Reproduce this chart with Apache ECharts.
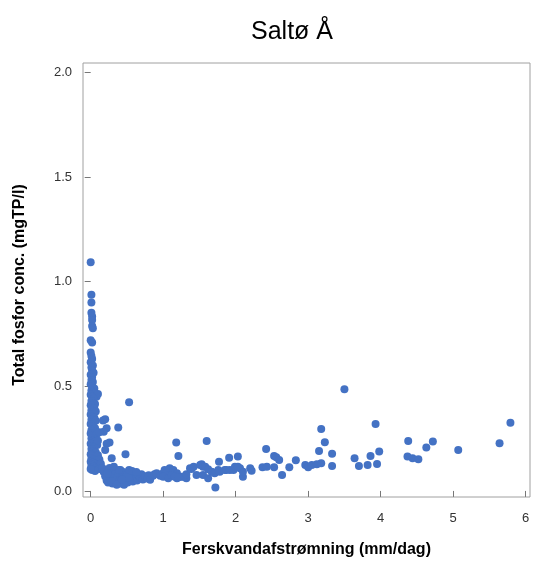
<!DOCTYPE html>
<html>
<head>
<meta charset="utf-8">
<script src="https://cdn.jsdelivr.net/npm/echarts@6/dist/echarts.min.js"></script>
<style>
html,body{margin:0;padding:0;background:#fff;}
#chart{width:533px;height:570px;}
</style>
</head>
<body>
<div id="chart"></div>
<script>
var titleText = "Saltø Å";
var xName = "Ferskvandafstrømning (mm/dag)";
var yName = "Total fosfor conc. (mgTP/l)";
var xTicks = [0, 1, 2, 3, 4, 5, 6];
var yTicks = [0, 0.5, 1.0, 1.5, 2.0];

// x = freshwater runoff (mm/day), y = total phosphorus (mg TP/l)
var xVals = [
  0.00,0.01,0.01,0.01,0.02,0.02,0.02,0.03,0.00,0.02,0.00,0.01,0.02,0.00,0.03,0.01,0.02,0.04,0.00,0.02,
  0.01,0.03,0.00,0.02,0.05,0.01,0.03,0.06,0.08,0.10,0.00,0.02,0.04,0.01,0.03,0.06,0.00,0.02,0.05,0.01,
  0.03,0.07,0.00,0.02,0.05,0.01,0.04,0.07,0.00,0.03,0.06,0.01,0.04,0.00,0.02,0.05,0.08,0.01,0.03,0.06,
  0.00,0.02,0.05,0.09,0.01,0.03,0.07,0.00,0.02,0.05,0.10,0.01,0.04,0.08,0.12,0.00,0.03,0.06,0.10,0.14,
  0.01,0.04,0.08,0.12,0.02,0.06,0.16,0.00,
  0.53,0.20,0.17,0.38,0.22,0.18,0.26,0.22,0.20,0.48,0.29,0.12,0.10,
  0.18,0.20,0.22,0.24,0.25,0.27,0.28,0.30,0.31,0.33,0.34,0.35,0.37,0.38,0.40,0.41,0.42,0.44,0.45,0.47,
  0.48,0.50,0.51,0.53,0.54,0.56,0.58,0.60,0.62,0.64,0.66,0.68,0.70,0.72,0.75,0.78,0.80,0.82,0.86,0.88,
  0.91,0.96,0.26,0.32,0.23,0.29,0.36,0.39,0.46,0.52,0.57,0.63,0.43,
  1.00,1.02,1.05,1.09,1.14,1.19,1.25,1.00,1.07,1.12,1.19,1.28,1.32,1.16,1.21,1.18,1.21,
  1.32,1.37,1.42,1.39,1.46,1.51,1.53,1.55,1.55,1.58,1.62,1.62,1.67,1.71,1.76,1.78,1.85,1.87,1.92,1.97,
  1.99,2.06,2.10,2.10,2.20,2.22,1.60,1.77,1.91,2.03,2.03,1.72,
  2.37,2.43,2.42,2.53,2.53,2.56,2.60,2.64,2.74,2.83,2.96,3.00,3.05,3.12,3.18,3.15,3.18,3.23,3.33,3.33,
  3.50,3.64,3.70,3.82,3.86,3.93,3.95,3.98,4.37,4.38,4.44,4.52,4.63,4.72,5.07,5.64,5.79
];
var yVals = [
  1.093,0.937,0.900,0.852,0.833,0.817,0.788,0.777,0.720,0.709,0.661,0.645,0.630,0.615,0.600,0.590,0.575,0.565,0.555,0.545,
  0.530,0.520,0.510,0.500,0.490,0.480,0.470,0.467,0.450,0.463,0.460,0.450,0.440,0.430,0.420,0.415,0.410,0.400,0.395,0.385,
  0.375,0.380,0.365,0.355,0.350,0.340,0.330,0.335,0.320,0.310,0.300,0.290,0.285,0.275,0.265,0.260,0.270,0.250,0.240,0.235,
  0.225,0.215,0.210,0.220,0.200,0.190,0.185,0.175,0.170,0.165,0.170,0.155,0.150,0.145,0.150,0.140,0.135,0.130,0.125,0.130,
  0.120,0.115,0.110,0.105,0.100,0.095,0.110,0.105,
  0.424,0.343,0.336,0.303,0.300,0.283,0.231,0.225,0.196,0.175,0.156,0.280,0.240,
  0.090,0.070,0.050,0.040,0.080,0.060,0.100,0.035,0.075,0.055,0.095,0.040,0.065,0.085,0.050,0.100,0.035,0.070,0.090,0.045,
  0.060,0.080,0.040,0.100,0.055,0.070,0.045,0.085,0.060,0.050,0.075,0.065,0.080,0.055,0.070,0.060,0.075,0.053,0.072,0.080,
  0.085,0.072,0.110,0.115,0.085,0.045,0.030,0.100,0.030,0.065,0.095,0.090,0.055,
  0.085,0.100,0.092,0.108,0.100,0.085,0.068,0.068,0.061,0.076,0.061,0.068,0.061,0.068,0.065,0.231,0.167,
  0.080,0.108,0.116,0.105,0.076,0.124,0.128,0.116,0.076,0.116,0.104,0.061,0.092,0.085,0.100,0.092,0.100,0.100,0.100,0.100,
  0.116,0.108,0.068,0.092,0.108,0.097,0.239,0.140,0.159,0.164,0.116,0.016,
  0.113,0.116,0.200,0.113,0.167,0.161,0.148,0.076,0.113,0.147,0.124,0.113,0.124,0.128,0.132,0.191,0.296,0.233,0.178,0.119,
  0.486,0.156,0.119,0.124,0.167,0.320,0.129,0.188,0.164,0.239,0.156,0.151,0.207,0.236,0.196,0.228,0.326
];

var points = xVals.map(function (x, i) { return [x, yVals[i]]; });

var chart = echarts.init(document.getElementById('chart'), null, {renderer: 'canvas'});
var axisFont = {color: '#333', fontSize: 13, fontFamily: 'Liberation Sans, Arial, sans-serif'};
chart.setOption({
  backgroundColor: '#fff',
  animation: false,
  title: {
    text: titleText,
    left: 287, top: 15, textAlign: 'center',
    textStyle: {fontSize: 25, fontWeight: 'normal', color: '#000', fontFamily: 'Liberation Sans, Arial, sans-serif'}
  },
  grid: {left: 83, right: 3, top: 63, bottom: 73, show: true, borderColor: '#a0a0a0', borderWidth: 1},
  xAxis: {
    type: 'value', min: -0.106, max: 6.06,
    name: xName, nameLocation: 'middle', nameGap: 44,
    nameTextStyle: {fontSize: 16, fontWeight: 'bold', color: '#000', fontFamily: 'Liberation Sans, Arial, sans-serif'},
    axisLine: {show: false},
    axisTick: {show: true, length: 6, customValues: xTicks, lineStyle: {color: '#777', width: 1}},
    axisLabel: Object.assign({customValues: xTicks, margin: 14, formatter: function (v) { return String(Math.round(v)); }}, axisFont),
    splitLine: {show: false},
    offset: 1
  },
  yAxis: {
    type: 'value', min: -0.029, max: 2.045,
    name: yName, nameLocation: 'middle', nameGap: 54, nameRotate: 90,
    nameTextStyle: {fontSize: 16, fontWeight: 'bold', color: '#000', fontFamily: 'Liberation Sans, Arial, sans-serif', padding: [0, 10, 0, 0]},
    axisLine: {show: false},
    axisTick: {show: true, length: 6, customValues: yTicks, lineStyle: {color: '#777', width: 1}},
    axisLabel: Object.assign({customValues: yTicks, margin: 10, formatter: function (v) { return v.toFixed(1); }}, axisFont),
    splitLine: {show: false},
    offset: 1
  },
  series: [{
    type: 'scatter',
    data: points,
    symbolSize: 8,
    itemStyle: {color: '#4472c4', opacity: 1},
    silent: true
  }]
});
</script>
</body>
</html>
